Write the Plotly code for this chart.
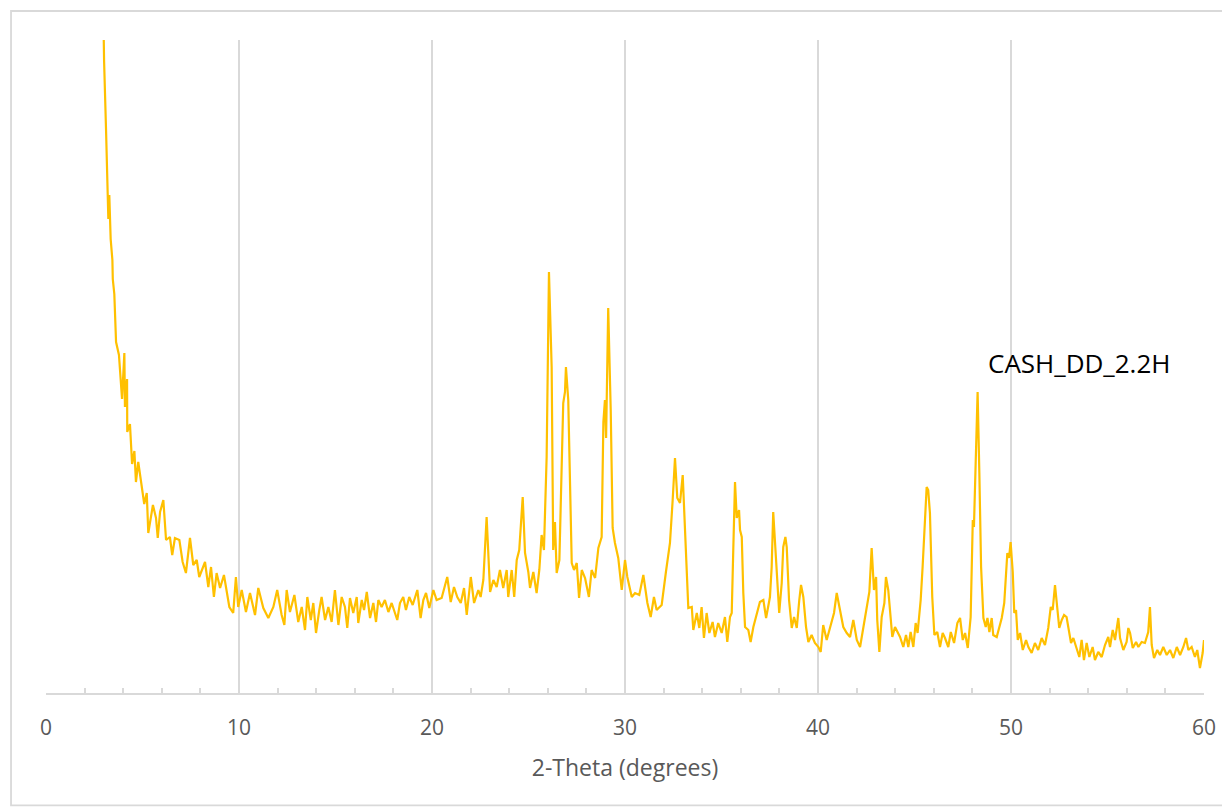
import plotly.graph_objects as go

# 2-Theta (degrees) and intensity (arbitrary units)
two_theta = [
    2.94, 3.01, 3.11, 3.20, 3.23, 3.28, 3.35, 3.44, 3.46, 3.54, 3.61, 3.63, 3.78, 3.94,
    4.06, 4.09, 4.20, 4.21, 4.35, 4.46, 4.58, 4.66, 4.78, 4.91, 5.09,
    5.22, 5.30, 5.54, 5.70, 5.79, 5.91, 6.08, 6.22, 6.42, 6.54, 6.68, 6.91, 7.08, 7.25,
    7.46, 7.63, 7.81, 7.94, 8.24, 8.41, 8.55, 8.70, 8.84, 9.02, 9.22, 9.50, 9.70, 9.84,
    9.96, 10.14, 10.36, 10.57, 10.83, 11.00, 11.26, 11.52, 11.78, 11.98, 12.21, 12.35,
    12.47, 12.64, 12.87, 13.07,
    13.25, 13.42, 13.54, 13.72, 13.85, 13.99, 14.16, 14.28, 14.46, 14.63, 14.80, 14.97,
    15.15, 15.32, 15.49, 15.61, 15.75, 15.92, 16.10, 16.18, 16.36, 16.48, 16.62, 16.79,
    16.96, 17.10, 17.22, 17.39, 17.56, 17.74, 17.91, 18.08, 18.20, 18.34, 18.51, 18.65,
    18.82, 19.00, 19.24, 19.41, 19.55, 19.69, 19.86, 20.07, 20.24, 20.50, 20.67, 20.79,
    20.97, 21.14, 21.31, 21.49, 21.66, 21.80, 22.01, 22.18, 22.40, 22.52, 22.66, 22.83,
    23.01, 23.18, 23.35,
    23.52, 23.69, 23.87, 23.95, 24.13, 24.26, 24.39, 24.52, 24.70, 24.82, 24.99, 25.08,
    25.25, 25.42, 25.56, 25.68, 25.80, 25.94, 26.06, 26.20, 26.28, 26.37, 26.46, 26.60,
    26.80, 26.89, 26.94, 27.06, 27.24, 27.36, 27.50, 27.62, 27.76, 27.93, 28.13, 28.27,
    28.45, 28.62, 28.79, 28.88, 28.96, 29.02, 29.13, 29.26, 29.36, 29.48, 29.65, 29.83,
    30.00, 30.12, 30.35, 30.52, 30.74, 30.95, 31.16, 31.33, 31.50, 31.64, 31.90, 32.12,
    32.33, 32.47, 32.59, 32.71, 32.85, 32.99, 33.16, 33.28, 33.46,
    33.54, 33.72, 33.85, 33.97, 34.09, 34.23, 34.37, 34.54, 34.66, 34.83, 35.01, 35.18,
    35.30, 35.44, 35.53, 35.61, 35.70, 35.79, 35.91, 35.96, 36.05, 36.13, 36.22, 36.39,
    36.51, 36.65, 36.79, 36.99, 37.17, 37.31, 37.51, 37.60, 37.68, 37.77, 37.89, 37.99,
    38.12, 38.20, 38.31, 38.38, 38.50, 38.64, 38.76, 38.90, 39.03, 39.12, 39.24, 39.38,
    39.50, 39.67, 39.84, 40.02, 40.14, 40.27, 40.45, 40.62, 40.83, 40.97, 41.14, 41.31,
    41.49, 41.66, 41.83, 42.01, 42.18, 42.35, 42.52, 42.66, 42.78, 42.90, 43.01, 43.07,
    43.18, 43.30, 43.44, 43.52, 43.64, 43.73, 43.85, 43.99, 44.16,
    44.25, 44.42, 44.56, 44.68, 44.80, 44.94, 45.06, 45.16, 45.32, 45.42, 45.53, 45.63,
    45.71, 45.80, 45.92, 46.03, 46.18, 46.32, 46.46, 46.58, 46.75, 46.88, 47.05, 47.22,
    47.36, 47.50, 47.62, 47.76, 47.91, 48.02, 48.08, 48.19, 48.27, 48.36, 48.45, 48.57,
    48.69, 48.78, 48.88, 49.00, 49.08, 49.26, 49.38, 49.52, 49.65, 49.81, 49.90, 49.98,
    50.09, 50.17, 50.26, 50.35, 50.47, 50.61, 50.78, 50.90, 51.07, 51.24, 51.41, 51.59,
    51.76, 51.93, 52.06, 52.16, 52.28, 52.37, 52.50, 52.63, 52.75, 52.88, 53.01, 53.11,
    53.23, 53.37, 53.54, 53.66, 53.78, 53.92, 54.06, 54.23, 54.35, 54.52, 54.70, 54.87,
    55.04, 55.13, 55.27, 55.39, 55.56, 55.65, 55.82, 55.99, 56.08, 56.17, 56.31, 56.48,
    56.60, 56.77, 56.94, 57.11, 57.20, 57.29, 57.41, 57.58, 57.72, 57.89, 58.07, 58.24,
    58.41, 58.59, 58.76, 58.93, 59.07, 59.19, 59.36, 59.53, 59.65, 59.79, 59.93, 60.00,
]

intensity = [
    720, 632, 564, 498, 474, 498, 454, 433, 414, 399, 368, 351, 338, 294,
    340, 286, 314, 261, 269, 229, 242, 211, 231, 213, 189,
    200, 160, 188, 175, 155, 181, 193, 153, 156, 138, 155, 153, 131, 120,
    155, 128, 133, 116, 131, 106, 126, 96, 120, 105, 118, 86, 80, 116,
    86, 103, 81, 100, 78, 105, 85, 75, 86, 103, 78, 68,
    103, 81, 98, 71,
    86, 63, 96, 73, 90, 60, 83, 96, 73, 86, 71, 103,
    68, 96, 86, 65, 95, 80, 96, 70, 93, 83, 101, 75,
    90, 71, 93, 86, 93, 81, 90, 80, 73, 90, 96, 83,
    96, 88, 103, 75, 93, 100, 85, 103, 93, 95, 106, 116,
    91, 106, 96, 90, 105, 78, 116, 90, 103, 96, 113, 176,
    101, 113, 106,
    123, 105, 123, 96, 123, 96, 133, 143, 196, 140, 121, 105,
    121, 100, 123, 158, 143, 236, 421, 326, 143, 171, 120, 133,
    290, 301, 326, 293, 130, 123, 130, 95, 123, 115, 96, 123,
    115, 145, 156, 271, 293, 255, 385, 283, 165, 150, 135, 103,
    133, 116, 96, 100, 98, 118, 90, 76, 96, 83, 88, 121,
    150, 193, 235, 195, 190, 218, 133, 85, 86,
    63, 80, 65, 86, 55, 80, 60, 71, 56, 70, 60, 76,
    51, 76, 80, 143, 211, 175, 183, 163, 156, 100, 66, 63,
    51, 66, 76, 91, 93, 75, 96, 126, 181, 150, 106, 80,
    110, 146, 156, 146, 93, 65, 76, 65, 93, 108, 96, 66,
    51, 58, 50, 46, 41, 68, 53, 66, 80, 100, 81, 66,
    60, 56, 73, 53, 46, 66, 86, 101, 145, 103, 116, 73,
    41, 76, 90, 116, 103, 86, 56, 66, 60,
    56, 46, 58, 46, 61, 46, 70, 60, 93, 126, 173, 206,
    203, 180, 96, 58, 61, 46, 60, 55, 46, 61, 50, 70,
    75, 53, 60, 45, 76, 173, 166, 246, 301, 220, 126, 75,
    66, 75, 61, 75, 58, 56, 66, 75, 90, 140, 135, 151,
    121, 80, 83, 53, 60, 43, 53, 46, 40, 50, 43, 55,
    48, 65, 86, 83, 108, 90, 65, 73, 78, 76, 60, 50,
    55, 46, 36, 53, 33, 50, 36, 46, 33, 41, 36, 48,
    56, 46, 63, 53, 75, 55, 43, 51, 65, 60, 45, 51,
    46, 51, 50, 61, 86, 48, 35, 43, 38, 46, 38, 43,
    35, 46, 38, 46, 55, 43, 46, 36, 43, 25, 40, 53,
]

x_ticks = [0, 10, 20, 30, 40, 50, 60]
sample_label = "CASH_DD_2.2H"
x_title = "2-Theta (degrees)"

fig = go.Figure()
fig.add_trace(go.Scatter(
    x=two_theta, y=intensity, mode="lines",
    line=dict(color="#FFC000", width=2.2),
    showlegend=False, hoverinfo="skip",
))

fig.add_annotation(
    x=53.5, y=330, xref="x", yref="y", text=sample_label, showarrow=False,
    font=dict(family="Open Sans, sans-serif", size=26, color="#000000"),
)

# outer chart frame
fig.add_shape(type="rect", xref="paper", yref="paper",
              x0=-0.0302, x1=1.0216, y0=-0.172, y1=1.0444,
              line=dict(color="#d9d9d9", width=1.8), fillcolor="rgba(0,0,0,0)",
              layer="below")

fig.update_layout(
    width=1222, height=799,
    margin=dict(l=38, r=26, t=32, b=114),
    paper_bgcolor="white", plot_bgcolor="white",
    font=dict(family="Open Sans, sans-serif", color="#595959"),
    xaxis=dict(
        range=[0, 60], tickvals=x_ticks, ticktext=[str(v) for v in x_ticks],
        showgrid=True, gridcolor="#d9d9d9", gridwidth=2,
        showline=True, linecolor="#d9d9d9", linewidth=2,
        ticks="inside", ticklen=5, tickcolor="#d9d9d9", tickwidth=2,
        minor=dict(dtick=2, tick0=0, ticks="inside", ticklen=5,
                   tickcolor="#d9d9d9", tickwidth=2, showgrid=False),
        zeroline=False,
        tickfont=dict(size=21, color="#595959"),
        ticklabelstandoff=15,
        title=dict(text=x_title, font=dict(size=23, color="#595959"), standoff=20),
    ),
    yaxis=dict(
        range=[0, 653], visible=False, showgrid=False, zeroline=False,
    ),
)

fig.write_html("out.html")
